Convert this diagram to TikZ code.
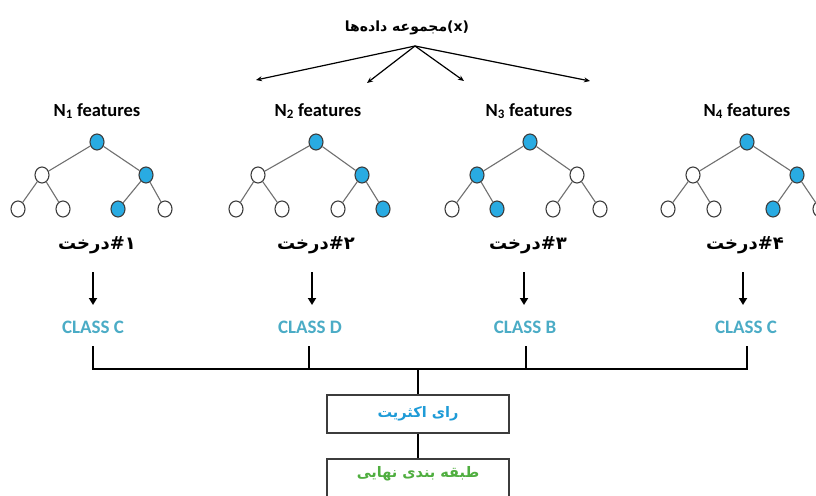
\documentclass[tikz,border=0pt]{standalone}
\usepackage{fontspec}
\setmainfont{Carlito}
\newfontfamily\fa[Script=Arabic]{DejaVu Sans}
\TeXXeTstate=1
\usetikzlibrary{arrows.meta,shapes.geometric}
\definecolor{nodeblue}{HTML}{29ABE2}
\definecolor{classcol}{HTML}{4BACC6}
\definecolor{votecol}{HTML}{1E9BD7}
\definecolor{finalcol}{HTML}{4FAE3F}
\definecolor{edgegray}{HTML}{707070}
\definecolor{ringgray}{HTML}{3C3C3C}
\newcommand\treetext[1]{\hbox{\beginR درخت\endR}\hbox{\#}\hbox{#1}}
\tikzset{
  tn/.style={ellipse, draw=ringgray, line width=1.1pt, minimum width=14pt, minimum height=16pt, inner sep=0pt},
  on/.style={tn, fill=nodeblue},
  off/.style={tn, fill=white},
  tedge/.style={edgegray, line width=1.1pt},
  feat/.style={font=\bfseries\fontsize{18.5}{20}\selectfont, inner sep=0pt},
  treelbl/.style={font=\fa\bfseries\fontsize{18}{20}\selectfont, inner sep=0pt},
  classlbl/.style={font=\bfseries\fontsize{19}{21}\selectfont, text=classcol, inner sep=0pt},
  splitarrow/.style={black, line width=1.2pt, -{Stealth[length=6pt,width=5pt]}},
  downarrow/.style={black, line width=2pt, -{Triangle[length=7pt,width=8pt]}},
  bus/.style={black, line width=1.6pt},
  boxnode/.style={draw=ringgray, line width=1.6pt, minimum width=182pt, inner sep=0pt},
}
\begin{document}
\begin{tikzpicture}[x=1pt,y=-1pt]
\useasboundingbox (0,0) rectangle (816,495);
\clip (0,0) rectangle (816,495);
\fill[white] (0,0) rectangle (816,495);

% title and split arrows
\node[font=\fa\bfseries\fontsize{14}{16}\selectfont, inner sep=0pt] (title) at (407,28) {\hbox{\beginR مجموعه داده‌ها\endR}\hbox{(x)}};
\coordinate (apex) at (415,46);
\coordinate (e1) at (256,80);
\coordinate (e2) at (367,83);
\coordinate (e3) at (464,81);
\coordinate (e4) at (590,81);
\foreach \e in {e1,e2,e3,e4} \draw[splitarrow] (apex) -- (\e);

% feature titles
\node[feat] (f1) at (97,111) {N\textsubscript{1} features};
\node[feat] (f2) at (318,111) {N\textsubscript{2} features};
\node[feat] (f3) at (529,111) {N\textsubscript{3} features};
\node[feat] (f4) at (747,111) {N\textsubscript{4} features};

% tree 1
\node[on]  (t1r) at (97,142) {};
\node[off] (t1a) at (42,175) {};
\node[on]  (t1b) at (146,175) {};
\node[off] (t1c) at (18,209) {};
\node[off] (t1d) at (63,209) {};
\node[on]  (t1e) at (118,209) {};
\node[off] (t1f) at (165,209) {};
% tree 2
\node[on]  (t2r) at (316,142) {};
\node[off] (t2a) at (258,175) {};
\node[on]  (t2b) at (362,175) {};
\node[off] (t2c) at (236,209) {};
\node[off] (t2d) at (282,209) {};
\node[off] (t2e) at (338,209) {};
\node[on]  (t2f) at (383,209) {};
% tree 3
\node[on]  (t3r) at (530,142) {};
\node[on]  (t3a) at (477,175) {};
\node[off] (t3b) at (577,175) {};
\node[off] (t3c) at (452,209) {};
\node[on]  (t3d) at (497,209) {};
\node[off] (t3e) at (553,209) {};
\node[off] (t3f) at (600,209) {};
% tree 4
\node[on]  (t4r) at (747,142) {};
\node[off] (t4a) at (693,175) {};
\node[on]  (t4b) at (797,175) {};
\node[off] (t4c) at (668,209) {};
\node[off] (t4d) at (714,209) {};
\node[on]  (t4e) at (773,209) {};
\node[off] (t4f) at (820,209) {};

\foreach \t in {1,2,3,4}{
  \draw[tedge] (t\t r) -- (t\t a);
  \draw[tedge] (t\t r) -- (t\t b);
  \draw[tedge] (t\t a) -- (t\t c);
  \draw[tedge] (t\t a) -- (t\t d);
  \draw[tedge] (t\t b) -- (t\t e);
  \draw[tedge] (t\t b) -- (t\t f);
}

% tree labels
\node[treelbl] (l1) at (97,245) {\treetext{۱}};
\node[treelbl] (l2) at (316,245) {\treetext{۲}};
\node[treelbl] (l3) at (528,245) {\treetext{۳}};
\node[treelbl] (l4) at (745,245) {\treetext{۴}};

% class labels
\node[classlbl] (c1) at (93,327) {CLASS C};
\node[classlbl] (c2) at (310,327) {CLASS D};
\node[classlbl] (c3) at (525,327) {CLASS B};
\node[classlbl] (c4) at (746,327) {CLASS C};

% down arrows
\coordinate (d1a) at (93,272);  \coordinate (d1b) at (93,305);
\coordinate (d2a) at (312,272); \coordinate (d2b) at (312,305);
\coordinate (d3a) at (524,272); \coordinate (d3b) at (524,305);
\coordinate (d4a) at (743,272); \coordinate (d4b) at (743,305);
\foreach \i in {1,2,3,4} \draw[downarrow] (d\i a) -- (d\i b);

% bus
\coordinate (v1) at (93,346);
\coordinate (v2) at (309,346);
\coordinate (v3) at (526,346);
\coordinate (v4) at (747,346);
\coordinate (bm) at (418,369);
\draw[bus] (v1) |- (bm) -| (v4);
\draw[bus] (v2) -- (v2 |- bm);
\draw[bus] (v3) -- (v3 |- bm);

% boxes
\node[boxnode, minimum height=38pt, font=\fa\bfseries\fontsize{14.5}{16}\selectfont, text=votecol] (vote) at (418,414) {\beginR رای اکثریت\endR};
\node[boxnode, minimum height=44pt, font=\fa\bfseries\fontsize{14.5}{16}\selectfont, text=finalcol, text depth=18pt] (final) at (418,481) {\beginR طبقه بندی نهایی\endR};
\draw[bus] (bm) -- (vote.north);
\draw[bus] (vote.south) -- (final.north);
\end{tikzpicture}
\end{document}
